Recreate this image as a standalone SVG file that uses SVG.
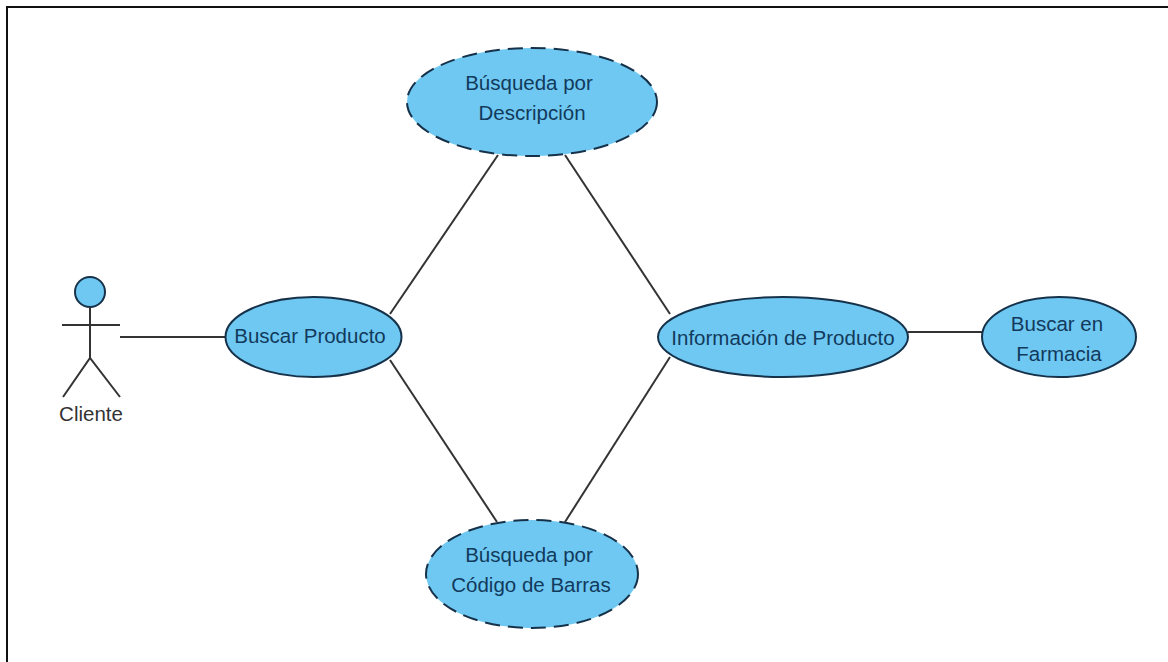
<svg xmlns="http://www.w3.org/2000/svg" width="1168" height="662" viewBox="0 0 1168 662">
<style>
.uc{fill:#6fc8f2;stroke:#16324a;stroke-width:2}
.dash{stroke-dasharray:15 8}
.ln{fill:none;stroke:#333;stroke-width:2}
text{font-family:"Liberation Sans",Arial,sans-serif;font-size:20.5px;fill:#123a5c;text-anchor:middle}
</style>
<rect width="1168" height="662" fill="#fff"/>
<path d="M7 662V7H1168" fill="none" stroke="#111" stroke-width="2"/>
<g id="connectors" class="ln">
<line x1="120" y1="337" x2="225" y2="337"/>
<line x1="390" y1="314" x2="498" y2="155"/>
<line x1="390" y1="360" x2="497" y2="522"/>
<line x1="565" y1="155" x2="670" y2="314"/>
<line x1="565" y1="522" x2="670" y2="357"/>
<line x1="908" y1="332" x2="982" y2="332"/>
</g>
<g id="actor-cliente">
<circle class="uc" cx="90" cy="292" r="15"/>
<path class="ln" d="M90 307V358M62 325H120M63 397L90 358L120 397"/>
<text x="91" y="421" style="fill:#333">Cliente</text>
</g>
<g id="uc-buscar-producto">
<ellipse class="uc" cx="313.500" cy="337" rx="88" ry="40"/>
<text x="310" y="343">Buscar Producto</text>
</g>
<g id="uc-busqueda-descripcion">
<ellipse class="uc dash" cx="532" cy="102" rx="125" ry="54"/>
<text x="529" y="90">Búsqueda por</text>
<text x="532" y="120">Descripción</text>
</g>
<g id="uc-busqueda-codigo">
<ellipse class="uc dash" cx="532" cy="574" rx="106" ry="54"/>
<text x="529" y="562">Búsqueda por</text>
<text x="531" y="592">Código de Barras</text>
</g>
<g id="uc-informacion-producto">
<ellipse class="uc" cx="783" cy="337" rx="125" ry="40"/>
<text x="783" y="345">Información de Producto</text>
</g>
<g id="uc-buscar-farmacia">
<ellipse class="uc" cx="1059" cy="337" rx="77" ry="40"/>
<text x="1057" y="331">Buscar en</text>
<text x="1059" y="361">Farmacia</text>
</g>
</svg>
